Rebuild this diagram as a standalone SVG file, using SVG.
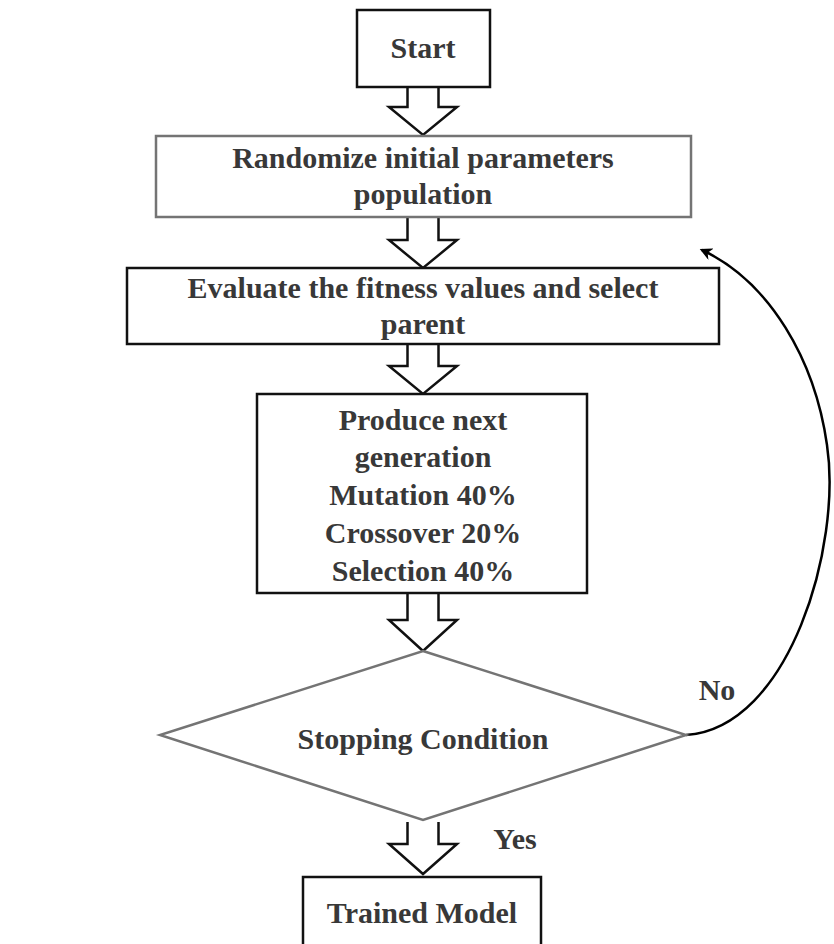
<svg xmlns="http://www.w3.org/2000/svg" width="834" height="944" viewBox="0 0 834 944">
<style>
.bg{fill:#ffffff}
.box{fill:#ffffff;stroke:#111111;stroke-width:2.5}
.gbox{fill:#ffffff;stroke:#747474;stroke-width:2.5}
.t{font-family:"Liberation Serif","Times New Roman",serif;font-weight:bold;font-size:30px;fill:#383838;text-anchor:middle}
.blk{fill:#ffffff;stroke:#111111;stroke-width:2.5;stroke-linejoin:miter}
.link{fill:none;stroke:#000000;stroke-width:2.5}
</style>
<defs>
<marker id="ah" viewBox="0 0 10 10" refX="8" refY="5" markerWidth="5" markerHeight="5" orient="auto" markerUnits="strokeWidth">
<path d="M0,0 L10,5 L0,10 L3,5 Z" fill="#000000"/>
</marker>
</defs>
<rect class="bg" x="0" y="0" width="834" height="944"/>

<g id="connectors">
<path class="blk" d="M407.5,87 V107 H389 L423,135 L457,107 H438.5 V87"/>
<path class="blk" d="M407.5,217 V240 H389 L423,268 L457,240 H438.5 V217"/>
<path class="blk" d="M407.5,344 V366 H389 L423,394 L457,366 H438.5 V344"/>
<path class="blk" d="M407.5,593 V620 H389 L423,651 L457,620 H438.5 V593"/>
<path class="blk" d="M407.5,822 V844 H389 L423,874 L457,844 H438.5 V822"/>
<path class="link" marker-end="url(#ah)" d="M686,735 C790,728 842,545 827,445 C815,360 770,282 702,250"/>
<text class="t" x="717" y="700">No</text>
<text class="t" x="515" y="849">Yes</text>
</g>

<g id="start">
<rect class="box" x="357" y="10" width="133" height="77"/>
<text class="t" x="423" y="58">Start</text>
</g>

<g id="randomize">
<rect class="gbox" x="156" y="136" width="535" height="81"/>
<text class="t" x="423" y="168">Randomize initial parameters</text>
<text class="t" x="423" y="204">population</text>
</g>

<g id="evaluate">
<rect class="box" x="127" y="268" width="592" height="76"/>
<text class="t" x="423" y="298">Evaluate the fitness values and select</text>
<text class="t" x="423" y="334">parent</text>
</g>

<g id="produce">
<rect class="box" x="257" y="394" width="330" height="199"/>
<text class="t" x="423" y="430">Produce next</text>
<text class="t" x="423" y="467">generation</text>
<text class="t" x="423" y="505">Mutation 40%</text>
<text class="t" x="423" y="543">Crossover 20%</text>
<text class="t" x="423" y="581">Selection 40%</text>
</g>

<g id="stopping">
<polygon class="gbox" points="423,651 686,735 423,820 160,735"/>
<text class="t" x="423" y="749">Stopping Condition</text>
</g>

<g id="trained">
<rect class="box" x="303" y="877" width="238" height="90"/>
<text class="t" x="422" y="923">Trained Model</text>
</g>
</svg>
